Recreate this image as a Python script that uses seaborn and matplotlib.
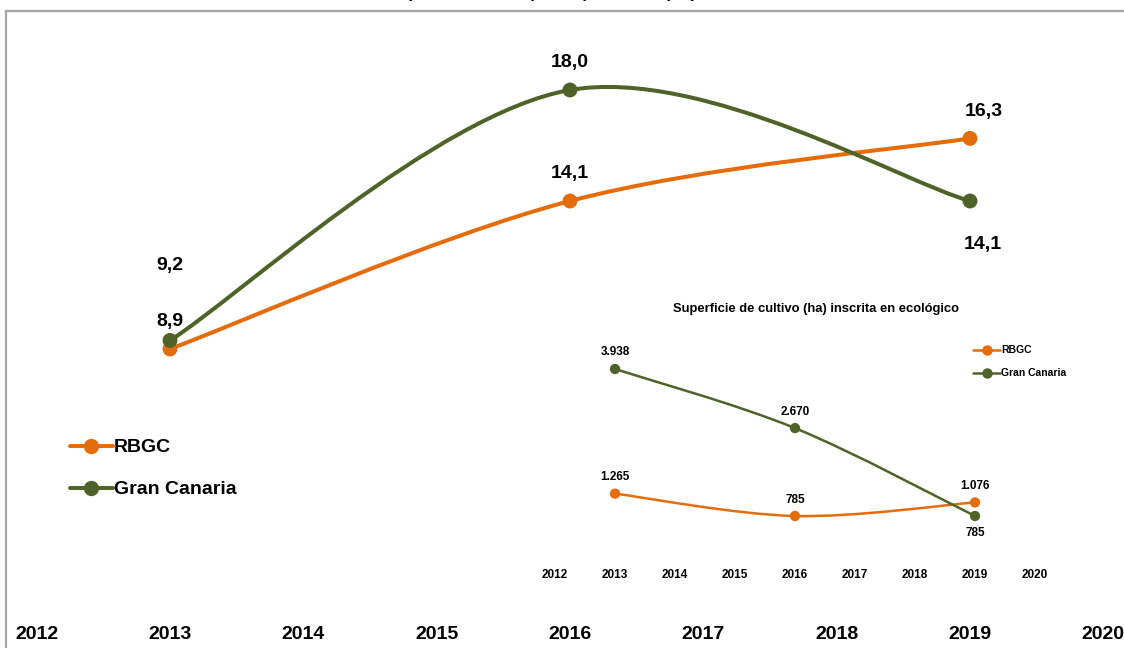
import matplotlib

matplotlib.use("Agg")
import matplotlib.pyplot as plt
from matplotlib.lines import Line2D
from matplotlib.patches import PathPatch, Rectangle
from matplotlib.path import Path
import pandas as pd
import seaborn as sns

# data
YEARS = [2013, 2016, 2019]
RBGC_MAIN = [8.9, 14.1, 16.3]
GC_MAIN = [9.2, 18.0, 14.1]
RBGC_ECO = [1265, 785, 1076]
GC_ECO = [3938, 2670, 785]
AXIS_YEARS = list(range(2012, 2021))
SERIES = ["RBGC", "Gran Canaria"]
TITLE = "Superficie media por explotación (ha) RBGC"
INSET_TITLE = "Superficie de cultivo (ha) inscrita en ecológico"

ORANGE = "#E46C0A"
GREEN = "#4F6228"
PALETTE = {"RBGC": ORANGE, "Gran Canaria": GREEN}

W, H = 1124, 648


def px(x, y):
    # pixel position (top-left origin) -> figure fraction
    return x / W, 1 - y / H


def smooth_path(xs, ys):
    # Excel-like smoothed line: cubic bezier segments through the points
    pts = list(zip(xs, ys))
    verts = [pts[0]]
    codes = [Path.MOVETO]
    n = len(pts)
    for i in range(n - 1):
        p0 = pts[max(i - 1, 0)]
        p1 = pts[i]
        p2 = pts[i + 1]
        p3 = pts[min(i + 2, n - 1)]
        c1 = (p1[0] + (p2[0] - p0[0]) / 6, p1[1] + (p2[1] - p0[1]) / 6)
        c2 = (p2[0] - (p3[0] - p1[0]) / 6, p2[1] - (p3[1] - p1[1]) / 6)
        verts += [c1, c2, p2]
        codes += [Path.CURVE4] * 3
    return Path(verts, codes)


def long_frame(rbgc, gc):
    return pd.DataFrame(
        {
            "year": YEARS * 2,
            "value": list(rbgc) + list(gc),
            "serie": ["RBGC"] * len(YEARS) + ["Gran Canaria"] * len(YEARS),
        }
    )


def draw_series(ax, df, lw, size):
    for name in SERIES:
        sub = df[df["serie"] == name]
        patch = PathPatch(
            smooth_path(sub["year"].tolist(), sub["value"].tolist()),
            fill=False,
            edgecolor=PALETTE[name],
            linewidth=lw,
            capstyle="round",
            joinstyle="round",
            zorder=2,
        )
        ax.add_patch(patch)
    sns.scatterplot(
        data=df, x="year", y="value", hue="serie", palette=PALETTE,
        s=size, edgecolor="none", legend=False, ax=ax, zorder=3,
    )


def annotate(ax, df, offsets, fmt, fontsize):
    for (_, row), (dx, dy) in zip(df.iterrows(), offsets):
        ax.annotate(
            fmt(row["value"]),
            (row["year"], row["value"]),
            xytext=(dx, dy),
            textcoords="offset points",
            ha="center",
            va="center",
            fontsize=fontsize,
            fontweight="bold",
            color="black",
        )


def style_axes(ax, fontsize, pad):
    sns.despine(ax=ax, left=True, bottom=True)
    ax.set_xticks(AXIS_YEARS)
    ax.set_xticklabels([str(y) for y in AXIS_YEARS], fontweight="bold")
    ax.set_yticks([])
    ax.set_xlabel("")
    ax.set_ylabel("")
    ax.tick_params(axis="x", length=0, labelsize=fontsize, pad=pad, labelcolor="black")
    ax.patch.set_alpha(0)


sns.set_theme(style="white")
plt.rcParams["font.family"] = ["Liberation Sans", "DejaVu Sans"]
plt.rcParams["text.color"] = "black"

fig = plt.figure(figsize=(W / 100, H / 100), dpi=100)

# chart area frame (right and bottom edges fall outside the picture)
fig.patches.append(
    Rectangle(
        px(6, 700), 1.2, (700 - 11) / H,
        transform=fig.transFigure, fill=False,
        edgecolor="#A6A6A6", linewidth=1.6, clip_on=False,
    )
)
# title sits almost entirely above the top edge, as in the reference
fig.text(*px(569, -1.8), TITLE, ha="center", va="baseline",
         fontsize=12.5, fontweight="bold", color="black")

# main chart
ax = fig.add_axes([0, 1 - 615 / H, 1, (615 - 20) / H])
main = long_frame(RBGC_MAIN, GC_MAIN)
draw_series(ax, main, lw=2.9, size=115)
ax.set_xlim(2011.725, 2020.155)
ax.set_ylim(-0.447, 20.46)
style_axes(ax, fontsize=14, pad=8)
annotate(
    ax, main,
    [(0, 19.5), (0, 20), (10, 19.5), (0, 54), (0, 20), (9, -31.5)],
    lambda v: f"{v:.1f}".replace(".", ","),
    14,
)

handles = [
    Line2D([], [], color=PALETTE[n], lw=2.9, marker="o", markersize=10) for n in SERIES
]
fig.legend(
    handles, SERIES, loc="upper left", bbox_to_anchor=px(62, 431),
    frameon=False, prop={"size": 14, "weight": "bold"},
    handlelength=2.2, handletextpad=0.05, labelspacing=1.25, borderaxespad=0,
)

# inset chart
inset = fig.add_axes([525 / W, 1 - 562 / H, 540 / W, (562 - 330) / H])
eco = long_frame(RBGC_ECO, GC_ECO)
draw_series(inset, eco, lw=1.8, size=55)
inset.set_xlim(2011.5, 2020.5)
inset.set_ylim(-201.7, 4774.5)
style_axes(inset, fontsize=8.5, pad=5)
annotate(
    inset, eco,
    [(0, 12), (0, 11.5), (0, 11.5), (0, 12), (0, 11.5), (0, -12)],
    lambda v: f"{int(v):,}".replace(",", "."),
    8.5,
)
fig.text(*px(816, 309), INSET_TITLE, ha="center", va="center",
         fontsize=9.4, fontweight="bold", color="black")
inset_handles = [
    Line2D([], [], color=PALETTE[n], lw=1.8, marker="o", markersize=6.5) for n in SERIES
]
fig.legend(
    inset_handles, SERIES, loc="upper left", bbox_to_anchor=px(969, 341),
    frameon=False, prop={"size": 7.5, "weight": "bold"},
    handlelength=2.6, handletextpad=0.1, labelspacing=1.25, borderaxespad=0,
)

fig.savefig("out.png", dpi=100)
plt.close(fig)
